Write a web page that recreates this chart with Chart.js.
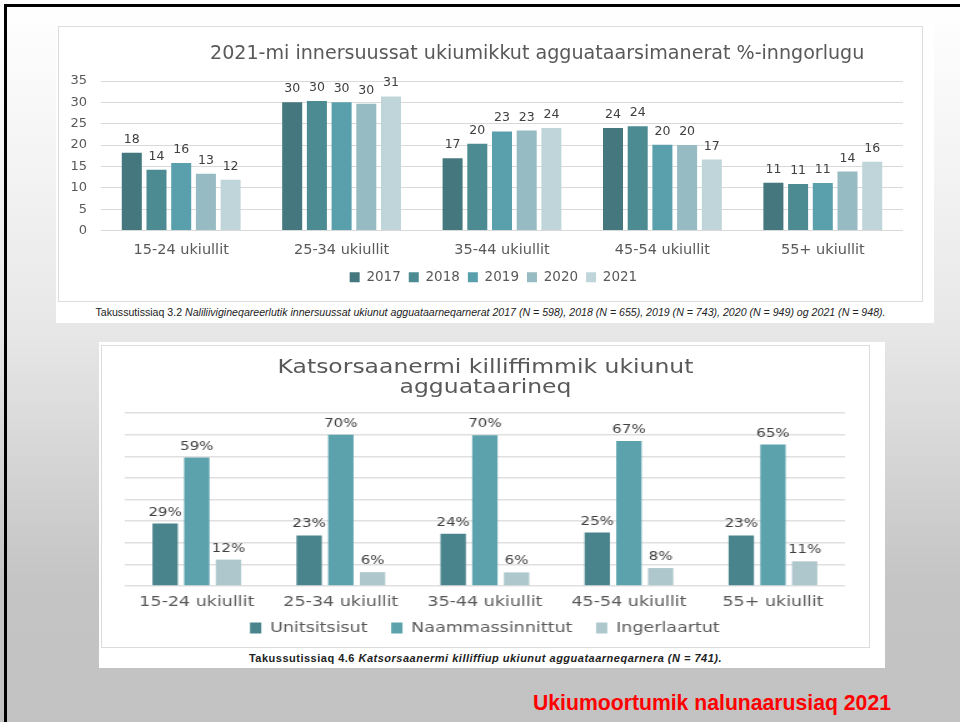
<!DOCTYPE html>
<html>
<head>
<meta charset="utf-8">
<script src="https://cdn.jsdelivr.net/npm/chart.js@4.4.1/dist/chart.umd.min.js"></script>
<style>
html, body { margin: 0; padding: 0; }
body {
  width: 960px; height: 722px; overflow: hidden; position: relative;
  background: linear-gradient(#ffffff 0%, #f5f5f5 20%, #e7e7e7 46%, #c5c5c5 80%, #c2c2c2 100%);
  font-family: "DejaVu Sans", sans-serif;
}
.frame { position: absolute; left: 4px; top: 4px; width: 980px; height: 740px;
  border-top: 3px solid #000; border-left: 3px solid #000; }
.sheet { position: absolute; background: #fff; }
.box { position: absolute; box-sizing: border-box; border: 1px solid #dcdcdc; }
canvas { position: absolute; left: 0; top: 0; }
.title { position: absolute; color: #595959; white-space: nowrap; }
.caption { position: absolute; text-align: center; white-space: nowrap; color: #222;
  font-family: "Liberation Sans", Arial, sans-serif; }
.caption i { font-style: italic; }
#footer { position: absolute; left: 533px; top: 690px; font: bold 21.2px "Liberation Sans", Arial, sans-serif;
  color: #ff0000; line-height: 26px; white-space: nowrap; }
</style>
</head>
<body>
<div class="frame"></div>

<div class="sheet" style="left:56px;top:24px;width:878px;height:299px;"></div>
<div class="box" style="left:58px;top:26px;width:865px;height:276px;"></div>
<div style="position:absolute;left:58px;top:26px;width:865px;height:276px;">
  <canvas id="chart1" width="865" height="276"></canvas>
</div>
<div class="title" style="left:210px;top:42px;font-size:19.1px;line-height:22px;">2021-mi innersuussat ukiumikkut agguataarsimanerat %-inngorlugu</div>
<div class="caption" style="left:58px;top:305px;width:865px;font-size:10.6px;line-height:14px;">Takussutissiaq 3.2 <i>Naliliivigineqareerlutik innersuussat ukiunut agguataarneqarnerat 2017 (N = 598), 2018 (N = 655), 2019 (N = 743), 2020 (N = 949) og 2021 (N = 948).</i></div>

<div class="sheet" style="left:99px;top:342px;width:786px;height:326px;"></div>
<div class="box" style="left:101px;top:345px;width:769px;height:303px;"></div>
<div style="position:absolute;left:101px;top:345px;width:615px;height:303px;transform:scaleX(1.2504);transform-origin:0 0;">
  <canvas id="chart2" width="615" height="303"></canvas>
  <div class="title" style="left:0;top:12px;width:615px;text-align:center;font-size:18.8px;line-height:19.5px;">Katsorsaanermi killiffimmik ukiunut<br>agguataarineq</div>
</div>
<div class="caption" style="left:101px;top:651px;width:769px;font-size:11px;letter-spacing:0.5px;line-height:14px;font-weight:bold;">Takussutissiaq 4.6 <i>Katsorsaanermi killiffiup ukiunut agguataarneqarnera (N = 741).</i></div>

<div id="footer">Ukiumoortumik nalunaarusiaq 2021</div>

<script>
// Takussutissiaq 3.2
const ageGroups = ['15-24 ukiullit', '25-34 ukiullit', '35-44 ukiullit', '45-54 ukiullit', '55+ ukiullit'];
const years = ['2017', '2018', '2019', '2020', '2021'];
const share2017 = [18.2, 30.0, 16.9, 24.0, 11.2];
const share2018 = [14.2, 30.3, 20.3, 24.4, 10.9];
const share2019 = [15.8, 30.0, 23.2, 20.1, 11.1];
const share2020 = [13.3, 29.7, 23.4, 20.0, 13.8];
const share2021 = [11.9, 31.4, 24.0, 16.6, 16.1];
const yearColors = ['#44777e', '#4d8b93', '#5aa0ac', '#97bbc2', '#c0d5d9'];

// Takussutissiaq 4.6
const stages = ['Unitsitsisut', 'Naammassinnittut', 'Ingerlaartut'];
const unitsitsisut = [28.9, 23.4, 24.2, 24.7, 23.4];
const naammassinnittut = [59.4, 70.0, 69.7, 67.1, 65.4];
const ingerlaartut = [12.2, 6.4, 6.3, 8.3, 11.4];
const stageColors = ['#49838b', '#5ba2ad', '#adc7cc'];

Chart.defaults.font.family = '"DejaVu Sans", sans-serif';
Chart.defaults.color = '#595959';

// tal bar-ip qulaani
const valueLabels = {
  id: 'valueLabels',
  afterDatasetsDraw(chart, args, opts) {
    const ctx = chart.ctx;
    ctx.save();
    ctx.font = opts.font;
    ctx.fillStyle = opts.color;
    ctx.textAlign = 'center';
    ctx.textBaseline = 'alphabetic';
    chart.data.datasets.forEach((ds, i) => {
      chart.getDatasetMeta(i).data.forEach((bar, j) => {
        ctx.fillText(Math.round(ds.data[j]) + opts.suffix, bar.x, bar.y - opts.offset);
      });
    });
    ctx.restore();
  }
};

const defaultLegendLabels = Chart.defaults.plugins.legend.labels.generateLabels;
const series1 = [share2017, share2018, share2019, share2020, share2021];

new Chart(document.getElementById('chart1'), {
  type: 'bar',
  data: {
    labels: ageGroups,
    datasets: years.map((y, i) => ({
      label: y,
      data: series1[i],
      backgroundColor: yearColors[i],
      borderWidth: 0,
      categoryPercentage: 0.77,
      barPercentage: 0.81
    }))
  },
  options: {
    responsive: false,
    animation: false,
    layout: { padding: { top: 55, right: 20, bottom: 8, left: 0 } },
    scales: {
      x: {
        grid: { display: false },
        border: { display: false },
        ticks: { color: '#595959', font: { size: 14.5 }, padding: 3 },
        afterFit: s => { s.height = 32; }
      },
      y: {
        min: 0, max: 35,
        ticks: { stepSize: 5, color: '#595959', font: { size: 13 }, padding: 14 },
        grid: { color: '#d9d9d9', drawTicks: false },
        border: { display: false },
        afterFit: s => { s.width = 43; }
      }
    },
    plugins: {
      legend: {
        position: 'bottom',
        fullSize: false,
        labels: {
          boxWidth: 10, boxHeight: 10, padding: 8, color: '#595959', font: { size: 13.5 },
          // nudge the row a little to the left of the plot centre
          generateLabels: chart => defaultLegendLabels(chart).map((item, i, all) =>
            i === all.length - 1 ? { ...item, text: item.text + '\u00a0\u00a0\u00a0\u00a0' } : item)
        }
      },
      tooltip: { enabled: false },
      valueLabels: { font: '12.5px "DejaVu Sans"', color: '#404040', suffix: '', offset: 10 }
    }
  },
  plugins: [valueLabels]
});

const series2 = [unitsitsisut, naammassinnittut, ingerlaartut];

new Chart(document.getElementById('chart2'), {
  type: 'bar',
  data: {
    labels: ageGroups,
    datasets: stages.map((s, i) => ({
      label: s,
      data: series2[i],
      backgroundColor: stageColors[i],
      borderWidth: 0,
      categoryPercentage: 0.66,
      barPercentage: 0.8
    }))
  },
  options: {
    responsive: false,
    animation: false,
    layout: { padding: { top: 68, right: 20, bottom: 3, left: 19 } },
    scales: {
      x: {
        grid: { display: false },
        border: { display: false },
        ticks: { color: '#595959', font: { size: 14 }, padding: 0 },
        afterFit: s => { s.height = 25; }
      },
      y: {
        min: 0, max: 80,
        ticks: { display: false, stepSize: 10 },
        grid: { color: '#e0e0e0', lineWidth: 1.5, drawTicks: false },
        border: { display: false },
        afterFit: s => { s.width = 0; }
      }
    },
    plugins: {
      legend: {
        position: 'bottom',
        labels: {
          boxWidth: 9, boxHeight: 11, padding: 10, color: '#595959', font: { size: 14 },
          // a bit more room between the items than the vertical padding allows
          generateLabels: chart => defaultLegendLabels(chart).map((item, i, all) =>
            i < all.length - 1 ? { ...item, text: item.text + '\u00a0\u00a0' } : item)
        }
      },
      tooltip: { enabled: false },
      valueLabels: { font: '12px "DejaVu Sans"', color: '#404040', suffix: '%', offset: 8 }
    }
  },
  plugins: [valueLabels]
});
</script>
</body>
</html>
